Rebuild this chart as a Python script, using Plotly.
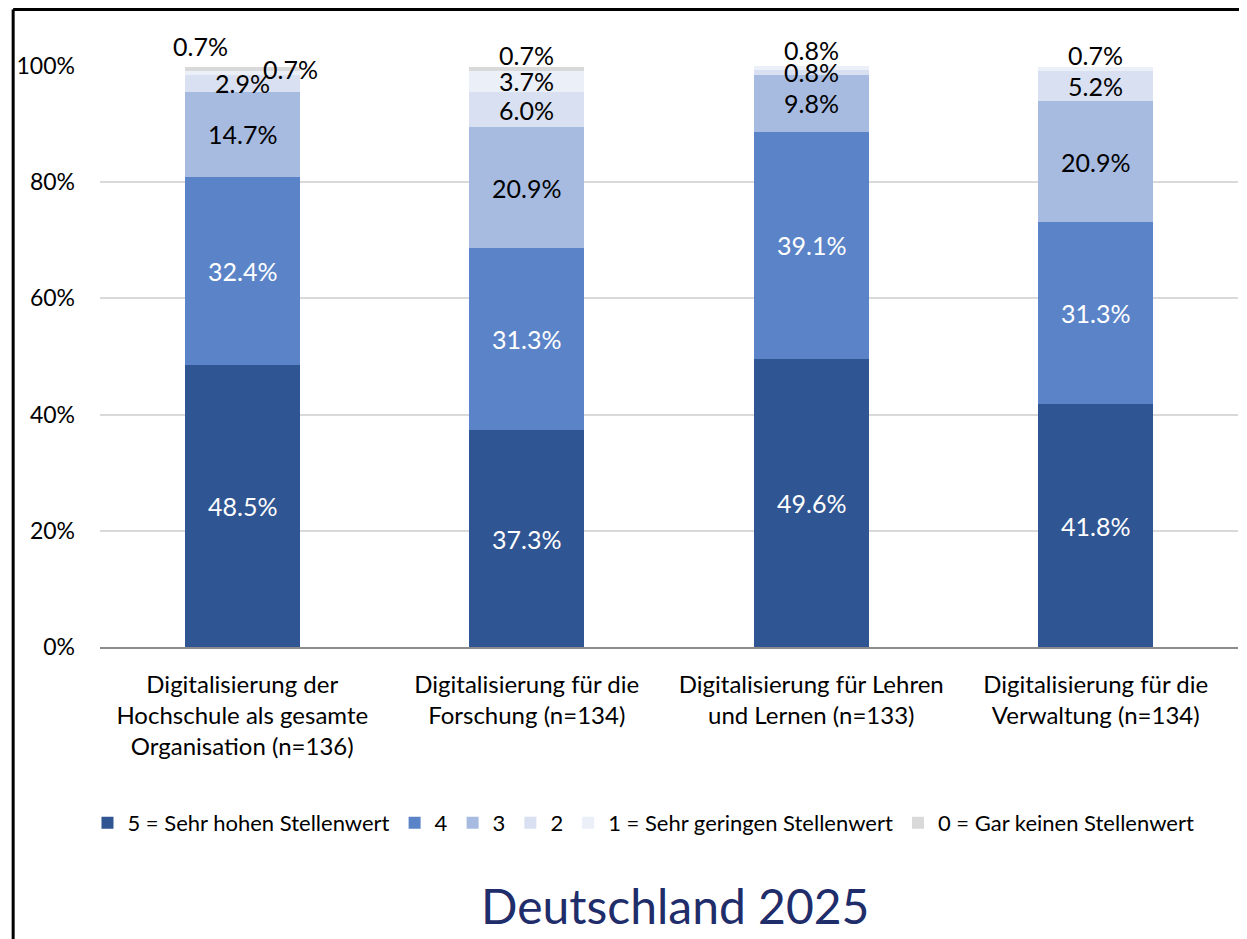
import plotly.graph_objects as go

categories = [
    "Digitalisierung der<br>Hochschule als gesamte<br>Organisation (n=136)",
    "Digitalisierung für die<br>Forschung (n=134)",
    "Digitalisierung für Lehren<br>und Lernen (n=133)",
    "Digitalisierung für die<br>Verwaltung (n=134)",
]
series_names = [
    "5 = Sehr hohen Stellenwert",
    "4",
    "3",
    "2",
    "1 = Sehr geringen Stellenwert",
    "0 = Gar keinen Stellenwert",
]
s5 = [48.5, 37.3, 49.6, 41.8]
s4 = [32.4, 31.3, 39.1, 31.3]
s3 = [14.7, 20.9, 9.8, 20.9]
s2 = [2.9, 6.0, 0.8, 5.2]
s1 = [0.7, 3.7, 0.8, 0.7]
s0 = [0.7, 0.7, None, None]
values = [s5, s4, s3, s2, s1, s0]
y_ticks = [0, 20, 40, 60, 80, 100]
y_tick_labels = ["0%", "20%", "40%", "60%", "80%", "100%"]

colors = ["#2F5592", "#5B84C8", "#A7BBE0", "#D9E0F1", "#EBEFF8", "#D9D9D9"]
text_colors = ["white", "white", "black", "black", "black", "black"]
FONT = "Lato, 'Open Sans', sans-serif"

# manual label offsets (series index, category index) -> (xshift, yshift) in px
label_offsets = {
    (4, 0): (48, 4),
    (5, 0): (-42, 23),
    (5, 1): (0, 14),
    (4, 2): (0, 18),
    (4, 3): (0, 14),
}

fig = go.Figure()
for si, (name, vals) in enumerate(zip(series_names, values)):
    fig.add_trace(go.Bar(
        x=categories,
        y=[v if v is not None else 0 for v in vals],
        name=name,
        marker=dict(color=colors[si], line=dict(width=0)),
        hoverinfo="skip",
    ))

annotations = []
for ci, cat in enumerate(categories):
    base = 0.0
    for si, vals in enumerate(values):
        v = vals[ci]
        if v is None:
            continue
        mid = base + v / 2
        base += v
        dx, dy = label_offsets.get((si, ci), (0, 0))
        annotations.append(dict(
            x=cat, y=mid, xref="x", yref="y",
            text=f"{v:.1f}%", showarrow=False,
            xshift=dx, yshift=dy,
            font=dict(family=FONT, size=25, color=text_colors[si]),
        ))

# page is rendered with an 8px body margin, so the figure is sized 8px smaller
W, H = 1239, 931
ml, mr, mt, mb = 90, 9, 58, 292
pw, ph = W - ml - mr, H - mt - mb

annotations.append(dict(
    x=(666 - ml) / pw, y=-(897 - (H - mb)) / ph, xref="paper", yref="paper",
    text="Deutschland 2025", showarrow=False,
    xanchor="center", yanchor="middle",
    font=dict(family=FONT, size=48, color="#1F2D6B"),
))

# border: top and left lines of the surrounding box
bx = (3 - ml) / pw
by_top = 1 + (mt - 1.5) / ph
by_bot = -(mb) / ph
shapes = [
    dict(type="line", xref="paper", yref="paper", x0=bx, x1=1 + mr / pw,
         y0=by_top, y1=by_top, line=dict(color="black", width=3)),
    dict(type="line", xref="paper", yref="paper", x0=bx, x1=bx,
         y0=by_top, y1=by_bot, line=dict(color="black", width=3)),
]

fig.update_layout(
    barmode="stack",
    bargap=0.595,
    width=W, height=H,
    margin=dict(l=ml, r=mr, t=mt, b=mb),
    paper_bgcolor="white",
    plot_bgcolor="white",
    font=dict(family=FONT, size=20, color="black"),
    xaxis=dict(
        showgrid=False, showline=True, linecolor="#8C8C8C", linewidth=2,
        ticks="", tickfont=dict(size=24, family=FONT), ticklabelstandoff=15,
    ),
    yaxis=dict(
        range=[0, 100], tickvals=y_ticks, ticktext=y_tick_labels,
        showgrid=True, gridcolor="#D9D9D9", gridwidth=2,
        zeroline=False, showline=False, ticks="",
        tickfont=dict(size=23, family=FONT), ticklabelstandoff=24,
    ),
    legend=dict(
        orientation="h", x=-0.011, xanchor="left",
        y=-(815 - (H - mb)) / ph, yanchor="middle",
        font=dict(size=22, family=FONT), traceorder="normal",
        itemwidth=30,
    ),
    annotations=annotations,
    shapes=shapes,
)
fig.update_traces(cliponaxis=False)

fig.write_html("out.html")
